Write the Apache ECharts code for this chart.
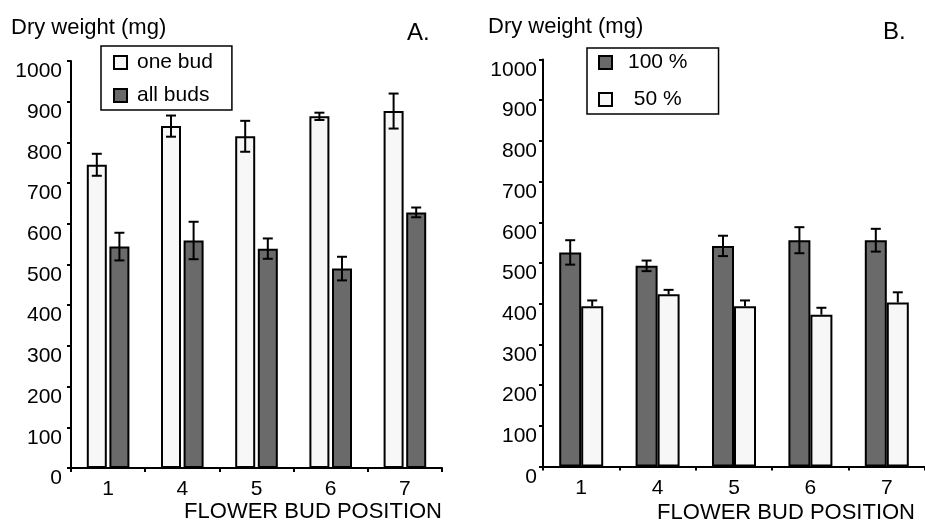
<!DOCTYPE html>
<html>
<head>
<meta charset="utf-8">
<script src="https://cdn.jsdelivr.net/npm/echarts@6/dist/echarts.min.js"></script>
<style>
html,body{margin:0;padding:0;background:#fff;}
#chart{width:925px;height:524px;}
</style>
</head>
<body>
<div id="chart"></div>
<script>
// ---- data ----
const categories = ['1', '4', '5', '6', '7'];
const aOneBud = [745, 840, 815, 864, 877];
const aOneBudErr = [27, 26, 38, 9, 43];
const aAllBuds = [544, 559, 539, 490, 628];
const aAllBudsErr = [34, 46, 25, 29, 12];
const b100 = [526, 493, 542, 556, 556];
const b100Err = [30, 13, 25, 32, 28];
const b50 = [394, 423, 394, 373, 403];
const b50Err = [14, 11, 14, 17, 25];
const yMin = 0, yMax = 1000, yStep = 100;
const seriesNamesA = ['one bud', 'all buds'];
const seriesNamesB = ['100 %', ' 50 %'];
const yTitle = 'Dry weight (mg)';
const xTitle = 'FLOWER BUD POSITION';
const panelLabels = ['A.', 'B.'];

// ---- styles ----
const FONT = '"Liberation Sans", Arial, sans-serif';
const LIGHT = '#f7f7f7';
const DARK = '#6a6a6a';
const INK = '#000';

const chart = echarts.init(document.getElementById('chart'), null, {renderer: 'canvas'});

function errSeries(vals, errs, xIdx, offset, both) {
  return {
    type: 'custom',
    xAxisIndex: xIdx,
    yAxisIndex: xIdx,
    z: 10,
    silent: true,
    data: vals.map((v, i) => [i, v, errs[i]]),
    renderItem: function (params, api) {
      const i = api.value(0), v = api.value(1), e = api.value(2);
      const hi = api.coord([i, v + e]);
      const lo = api.coord([i, both ? v - e : v]);
      const x = hi[0] + offset;
      const st = {stroke: INK, lineWidth: 2};
      const children = [
        {type: 'line', shape: {x1: x, y1: hi[1], x2: x, y2: lo[1]}, style: st},
        {type: 'line', shape: {x1: x - 5, y1: hi[1], x2: x + 5, y2: hi[1]}, style: st}
      ];
      if (both) children.push({type: 'line', shape: {x1: x - 5, y1: lo[1], x2: x + 5, y2: lo[1]}, style: st});
      return {type: 'group', children: children};
    }
  };
}

function barSeries(name, vals, color, xIdx, width, gap) {
  return {
    name: name,
    type: 'bar',
    xAxisIndex: xIdx,
    yAxisIndex: xIdx,
    data: vals,
    barWidth: width,
    barGap: gap,
    itemStyle: {color: color, borderColor: INK, borderWidth: 2},
    emphasis: {disabled: true}
  };
}

function yAxis(gi, margin) {
  return {
    type: 'value', gridIndex: gi, min: yMin, max: yMax, interval: yStep,
    axisLine: {show: true, lineStyle: {color: INK, width: 2}},
    axisTick: {show: true, length: 4, lineStyle: {color: INK, width: 2}},
    splitLine: {show: false},
    axisLabel: {color: INK, fontSize: 21, fontFamily: FONT, margin: margin,
      verticalAlign: 'top', formatter: function (v) { return String(v); }}
  };
}
function xAxis(gi) {
  return {
    type: 'category', gridIndex: gi, data: categories,
    axisLine: {show: true, lineStyle: {color: INK, width: 2}},
    axisTick: {show: true, length: 4, lineStyle: {color: INK, width: 2}},
    axisLabel: {color: INK, fontSize: 21, fontFamily: FONT, margin: 11}
  };
}

const option = {
  animation: false,
  backgroundColor: '#fff',
  grid: [
    {left: 71, top: 61, width: 371, height: 407},
    {left: 543, top: 59.5, width: 387, height: 407}
  ],
  xAxis: [xAxis(0), xAxis(1)],
  yAxis: [yAxis(0, 9), yAxis(1, 6)],
  legend: [
    {
      data: seriesNamesA, orient: 'vertical', left: 101, top: 46,
      padding: [6, 19, 4, 12], itemGap: 12, itemWidth: 13, itemHeight: 13,
      borderColor: INK, borderWidth: 1.5, icon: 'rect',
      textStyle: {color: INK, fontSize: 21, fontFamily: FONT, padding: [0, 0, 0, 5]}, selectedMode: false
    },
    {
      data: seriesNamesB, orient: 'vertical', left: 587, top: 48,
      padding: [4, 31, 4, 11], itemGap: 16, itemWidth: 13, itemHeight: 13,
      borderColor: INK, borderWidth: 1.5, icon: 'rect',
      textStyle: {color: INK, fontSize: 21, fontFamily: FONT, padding: [0, 0, 0, 11]}, selectedMode: false
    }
  ],
  graphic: [
    {type: 'text', x: 11, y: 28, style: {text: yTitle, font: '22px ' + FONT, fill: INK, textVerticalAlign: 'middle'}},
    {type: 'text', x: 488, y: 27, style: {text: yTitle, font: '22px ' + FONT, fill: INK, textVerticalAlign: 'middle'}},
    {type: 'text', x: 407, y: 33, style: {text: panelLabels[0], font: '24px ' + FONT, fill: INK, textVerticalAlign: 'middle'}},
    {type: 'text', x: 883, y: 32, style: {text: panelLabels[1], font: '24px ' + FONT, fill: INK, textVerticalAlign: 'middle'}},
    {type: 'text', x: 442, y: 512, style: {text: xTitle, font: '22px ' + FONT, fill: INK, textAlign: 'right', textVerticalAlign: 'middle'}},
    {type: 'text', x: 915, y: 513, style: {text: xTitle, font: '22px ' + FONT, fill: INK, textAlign: 'right', textVerticalAlign: 'middle'}}
  ],
  series: [
    barSeries(seriesNamesA[0], aOneBud, LIGHT, 0, 20, '13%'),
    barSeries(seriesNamesA[1], aAllBuds, DARK, 0, 20, '13%'),
    barSeries(seriesNamesB[0], b100, DARK, 1, 22, '0%'),
    barSeries(seriesNamesB[1], b50, LIGHT, 1, 22, '0%'),
    errSeries(aOneBud, aOneBudErr, 0, -11.3, true),
    errSeries(aAllBuds, aAllBudsErr, 0, 11.3, true),
    errSeries(b100, b100Err, 1, -11, true),
    errSeries(b50, b50Err, 1, 11, false)
  ]
};
chart.setOption(option);
</script>
</body>
</html>
